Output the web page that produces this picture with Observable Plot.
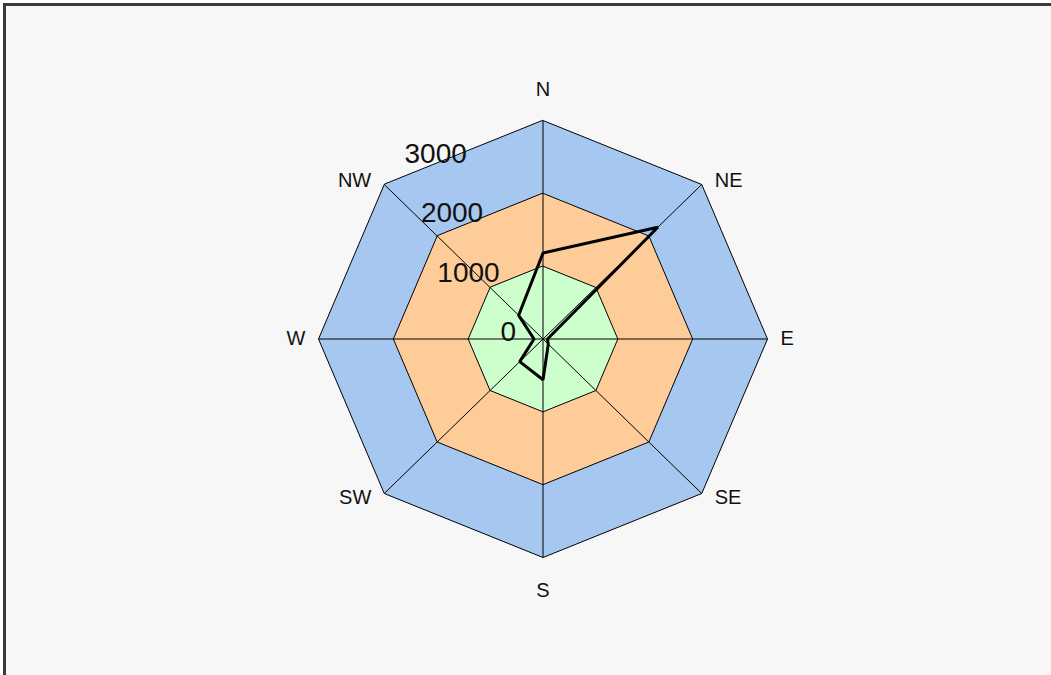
<!DOCTYPE html>
<html>
<head>
<meta charset="utf-8">
<script src="https://cdn.jsdelivr.net/npm/d3@7"></script>
<script src="https://cdn.jsdelivr.net/npm/@observablehq/plot@0.6"></script>
<style>
  html, body { margin: 0; padding: 0; background: #ffffff; }
  #frame {
    position: absolute; left: 3px; top: 3px; width: 1100px; height: 700px;
    background: #f7f7f7; border-top: 3px solid #3a3a3a; border-left: 3px solid #3a3a3a;
  }
  #chart { position: absolute; left: 0; top: 0; }
</style>
</head>
<body>
<div id="frame"></div>
<div id="chart"></div>
<script>
// ---- data ----
const directions = ["N", "NE", "E", "SE", "S", "SW", "W", "NW"];
const counts = [1180, 2170, 60, 100, 560, 440, 120, 460];
const bandLevels = [3000, 2000, 1000];
const bandColors = ["#a6c8f0", "#fecc99", "#ccffcc"];
const tickValues = [0, 1000, 2000, 3000];

// ---- geometry ----
const W = 1051, H = 675;
const cx = 542.5, cy = 338.5;
const kx = 224.5 / 3000, ky = 218.5 / 3000; // px per unit
const angle = i => i * Math.PI / 4;
const polar = (v, i) => ({x: v * Math.sin(angle(i)), y: v * Math.cos(angle(i))});

const bandMarks = bandLevels.map((lvl, j) =>
  Plot.line(directions.map((d, i) => polar(lvl, i)), {
    x: "x", y: "y", curve: "linear-closed",
    fill: bandColors[j], stroke: "black", strokeWidth: 1
  })
);

const spokes = Plot.link(directions, {
  x1: 0, y1: 0,
  x2: (d, i) => polar(3000, i).x,
  y2: (d, i) => polar(3000, i).y,
  stroke: "black", strokeWidth: 1
});

const linePts = counts.map((v, i) => ({dir: directions[i], ...polar(v, i)}));
const dataLine = Plot.line(linePts, {
  x: "x", y: "y", curve: "linear-closed",
  stroke: "black", strokeWidth: 3, strokeLinejoin: "miter"
});

// direction labels
const lab = directions.map((d, i) => {
  const p = polar(3000, i);
  const s = Math.round(Math.sin(angle(i)) * 10) / 10;
  const c = Math.cos(angle(i));
  let x = p.x, y = p.y, anchor;
  if (Math.abs(s) < 0.1) { anchor = "middle"; y += (c > 0 ? 31 : -33) / ky; }
  else { anchor = s > 0 ? "start" : "end"; x += (s > 0 ? 13 : -13) / kx; y += c * 6 / ky; }
  return {label: d, x, y, anchor};
});
const dirFont = {fontFamily: "Liberation Sans, Arial, sans-serif", fontSize: 20, fill: "#111"};
const dirMarks = ["middle", "start", "end"].map(a =>
  Plot.text(lab.filter(l => l.anchor === a), {x: "x", y: "y", text: "label", textAnchor: a, ...dirFont})
);

// value tick labels
const tickMarks = Plot.text(tickValues, {
  x: v => (-27 - 16.4 * v / 1000) / kx,
  y: v => (7 + 59.4 * v / 1000) / ky,
  text: v => String(v),
  textAnchor: "end",
  fontFamily: "Liberation Sans, Arial, sans-serif", fontSize: 28, fill: "#111"
});

const chart = Plot.plot({
  width: W, height: H,
  marginTop: 0, marginRight: 0, marginBottom: 0, marginLeft: 0,
  style: {background: "none", overflow: "visible"},
  x: {domain: [-cx / kx, (W - cx) / kx], range: [0, W], axis: null},
  y: {domain: [-(H - cy) / ky, cy / ky], range: [H, 0], axis: null},
  marks: [...bandMarks, spokes, dataLine, ...dirMarks, tickMarks]
});
document.getElementById("chart").appendChild(chart);
</script>
</body>
</html>
